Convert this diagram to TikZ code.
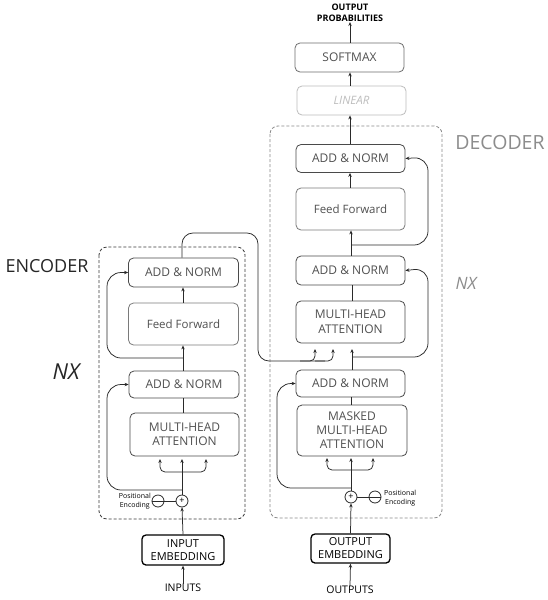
\documentclass[tikz,border=0pt]{standalone}
\usepackage{fontspec}
\setmainfont{Open Sans}
\usetikzlibrary{arrows.meta}
\definecolor{boxline}{HTML}{4A4A4A}
\definecolor{boxtext}{HTML}{505050}
\definecolor{ffline}{HTML}{7A7A7A}
\definecolor{lightline}{HTML}{BDBDBD}
\definecolor{dgray}{HTML}{2A2A2A}
\definecolor{dashenc}{HTML}{3A3A3A}
\definecolor{dashdec}{HTML}{8A8A8A}
\definecolor{labgray}{HTML}{8C8C8C}
\begin{document}
\begin{tikzpicture}[x=1pt,y=-1pt,
  blk/.style={draw=boxline, line width=0.8pt, rounded corners=5pt, text=boxtext,
    font=\fontsize{12}{14.5}\selectfont, align=center, inner sep=0pt},
  ffblk/.style={blk, draw=ffline},
  lightblk/.style={blk, draw=lightline, text=lightline},
  emb/.style={draw=black, line width=1.3pt, rounded corners=4pt, text=black,
    font=\fontsize{11}{13}\selectfont, align=center, inner sep=0pt},
  lab/.style={text=black, font=\fontsize{10.5}{12}\selectfont, align=center, inner sep=0pt},
  tinylab/.style={text=black, font=\fontsize{7}{9}\selectfont, align=center, inner sep=0pt},
  opcirc/.style={draw=dgray, circle, line width=0.8pt, minimum size=12pt, inner sep=0pt,
    font=\fontsize{9}{9}\selectfont},
  conn/.style={draw=dgray, line width=0.75pt},
  arr/.style={conn, -{Stealth[length=4pt,width=3.4pt]}},
  bigtitle/.style={font=\fontsize{18}{18}\selectfont, inner sep=0pt}
]
\useasboundingbox[fill=white] (0,0) rectangle (548,600);

% ---------- dashed frames ----------
\draw[dashenc, densely dashed, line width=0.8pt, rounded corners=8pt] (99,247) rectangle (245,519);
\draw[dashdec, densely dashed, line width=0.8pt, rounded corners=8pt] (270,126) rectangle (442,518);

% ---------- labels ----------
\node[bigtitle, text=black!85] (encT) at (47,266) {ENCODER};
\node[font=\fontsize{22}{22}\selectfont\itshape, inner sep=0pt, text=black!85] (encN) at (66,372) {NX};
\node[bigtitle, font=\fontsize{19.5}{19.5}\selectfont, text=labgray] (decT) at (500,143) {DECODER};
\node[font=\fontsize{17}{17}\selectfont\itshape, inner sep=0pt, text=labgray] (decN) at (466,283) {NX};

% ---------- encoder ----------
\node[blk, minimum width=110pt, minimum height=29pt] (eAN2) at (183.5,272.5) {ADD \& NORM};
\node[ffblk, minimum width=110pt, minimum height=42pt, font=\fontsize{11.5}{14}\selectfont] (eFF) at (183.5,324) {Feed Forward};
\node[blk, minimum width=110pt, minimum height=27pt] (eAN1) at (184,384.5) {ADD \& NORM};
\node[blk, minimum width=109pt, minimum height=43pt] (eMHA) at (184.5,434.5) {MULTI-HEAD\\ATTENTION};
\node[opcirc] (ePlus) at (182,501) {+};
\node[opcirc] (eMinus) at (158,501) {};
\node[tinylab, anchor=east] (ePE) at (151,501) {Positional\\Encoding};
\node[emb, minimum width=82pt, minimum height=30pt] (eEmb) at (183,550) {INPUT\\EMBEDDING};
\node[lab] (eIn) at (183,588) {INPUTS};

% ---------- decoder ----------
\node[lab, font=\fontsize{9}{11}\selectfont\bfseries] (outP) at (350,13) {OUTPUT\\PROBABILITIES};
\node[blk, draw=boxline!80, minimum width=109pt, minimum height=29pt] (soft) at (349.5,57.5) {SOFTMAX};
\node[lightblk, minimum width=109pt, minimum height=29pt, font=\fontsize{11.5}{14}\selectfont\itshape] (lin) at (351.5,100.5) {LINEAR};
\node[blk, minimum width=109pt, minimum height=28pt] (dAN3) at (350.5,158.5) {ADD \& NORM};
\node[ffblk, minimum width=109pt, minimum height=42pt, font=\fontsize{11.5}{14}\selectfont] (dFF) at (350.5,209) {Feed Forward};
\node[blk, minimum width=109pt, minimum height=29pt] (dAN2) at (350.5,270.5) {ADD \& NORM};
\node[blk, minimum width=109pt, minimum height=42pt] (dMHA) at (350.5,322) {MULTI-HEAD\\ATTENTION};
\node[blk, minimum width=109pt, minimum height=27pt] (dAN1) at (350.5,383.5) {ADD \& NORM};
\node[blk, minimum width=110pt, minimum height=51pt, font=\fontsize{12}{14}\selectfont] (dMMHA) at (352,430.5) {MASKED\\MULTI-HEAD\\ATTENTION};
\node[opcirc] (dPlus) at (351,497) {+};
\node[opcirc] (dMinus) at (375,497) {};
\node[tinylab, anchor=west] (dPE) at (384,498) {Positional\\Encoding};
\node[emb, minimum width=79pt, minimum height=29pt] (dEmb) at (350.5,548.5) {OUTPUT\\EMBEDDING};
\node[lab] (dOut) at (350,590) {OUTPUTS};

% minus marks in the small circles
\draw[conn] (eMinus.west) -- (eMinus.east);
\draw[conn] (dMinus.west) -- (dMinus.east);

% ---------- encoder connectors ----------
\draw[arr] (eIn.north) -- (eEmb.south);
\draw[arr] (eEmb.north) -- (ePlus.south);
\draw[conn] (eMinus.east) -- (ePlus.west);
\draw[arr] (ePlus.north) -- (182,459);
\draw[arr, rounded corners=5pt] (182,472) -- (160,472) -- (160,459);
\draw[arr, rounded corners=5pt] (182,472) -- (206,472) -- (206,459);
\draw[arr, rounded corners=14pt] (182,490) -- (107,490) -- (107,384.5) -- (eAN1.west);
\draw[conn] (eMHA.north -| 183,0) -- (eAN1.south -| 183,0);
\draw[arr] (eAN1.north -| 183,0) -- (eFF.south -| 183,0);
\draw[arr, rounded corners=14pt] (183,358) -- (107,358) -- (107,272.5) -- (eAN2.west);
\draw[arr] (eFF.north -| 183,0) -- (eAN2.south -| 183,0);

% encoder output to decoder cross attention
\draw[conn, rounded corners=11pt] (eAN2.north -| 182,0) -- (182,233) -- (258,233) -- (258,361) -- (325,361);
\draw[arr, rounded corners=5pt] (300,361) -- (315,361) -- (315,349);
\draw[arr, rounded corners=5pt] (315,361) -- (333,361) -- (333,349);

% ---------- decoder connectors ----------
\draw[arr] (dOut.north) -- (dEmb.south);
\draw[arr] (dEmb.north) -- (dPlus.south);
\draw[conn] (dPlus.east) -- (dMinus.west);
\draw[arr] (dPlus.north) -- (351,458);
\draw[arr, rounded corners=5pt] (351,470) -- (327,470) -- (327,458);
\draw[arr, rounded corners=5pt] (351,470) -- (373,470) -- (373,458);
\draw[arr, rounded corners=14pt] (351,488) -- (277,488) -- (277,383.5) -- (dAN1.west);
\draw[conn] (dMMHA.north -| 351,0) -- (dAN1.south -| 351,0);
\draw[arr] (dAN1.north -| 352,0) -- (352,349);
\draw[arr, rounded corners=14pt] (352,357) -- (428,357) -- (428,268) -- (dAN2.east);
\draw[conn] (dMHA.north -| 352,0) -- (dAN2.south -| 352,0);
\draw[arr] (dAN2.north -| 351,0) -- (dFF.south -| 351,0);
\draw[arr, rounded corners=14pt] (351,245) -- (428,245) -- (428,157) -- (dAN3.east);
\draw[arr] (dFF.north -| 350,0) -- (dAN3.south -| 350,0);
\draw[arr] (dAN3.north -| 350,0) -- (lin.south -| 350,0);
\draw[arr] (lin.north -| 350,0) -- (soft.south -| 350,0);
\draw[arr] (soft.north -| 350,0) -- (outP.south -| 350,0);
\end{tikzpicture}
\end{document}
